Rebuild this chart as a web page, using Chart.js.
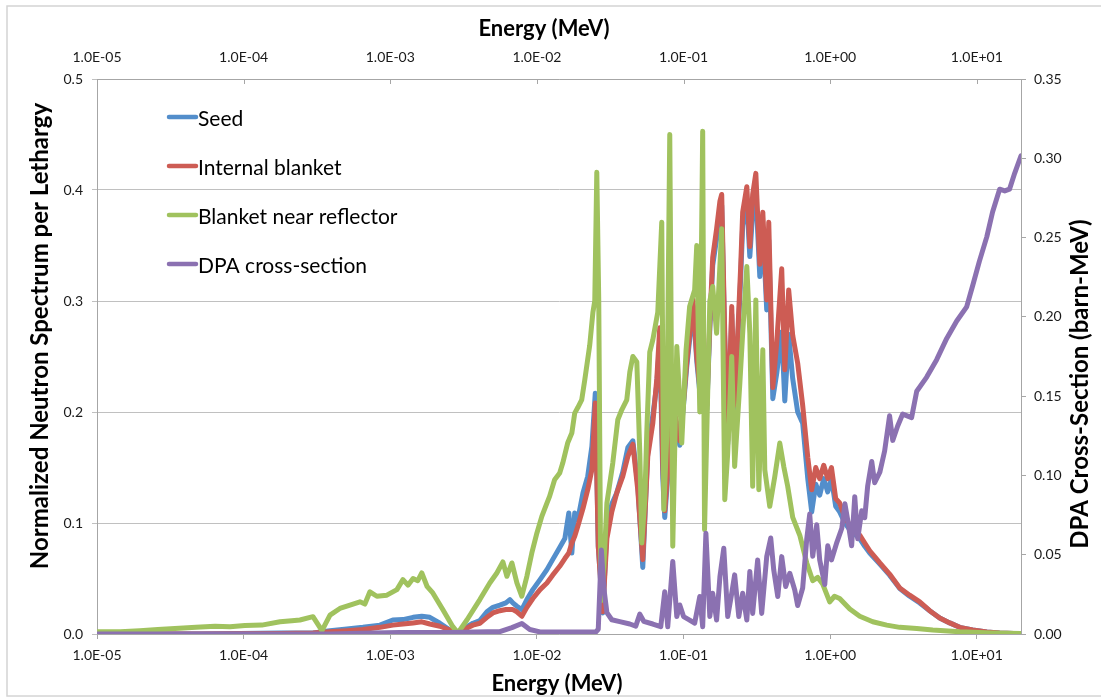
<!DOCTYPE html>
<html>
<head>
<meta charset="utf-8">
<title>Neutron spectra and DPA cross-section</title>
<script src="https://cdn.jsdelivr.net/npm/chart.js@4.4.0/dist/chart.umd.min.js"></script>
<style>
  html, body { margin: 0; padding: 0; background: #fff; }
  #wrap { width: 1101px; height: 698px; }
</style>
</head>
<body>
<div id="wrap"><canvas id="spectrumChart" width="1101" height="698"></canvas></div>
<script>
// x axis: one label per decade, shared by the top and bottom axes
const decadeValues = [1e-5, 1e-4, 1e-3, 1e-2, 1e-1, 1, 10];
const decadeLabels = ['1.0E-05', '1.0E-04', '1.0E-03', '1.0E-02', '1.0E-01', '1.0E+00', '1.0E+01'];
const fluxTickLabels = ['0.0', '0.1', '0.2', '0.3', '0.4', '0.5'];
const dpaTickLabels = ['0.00', '0.05', '0.10', '0.15', '0.20', '0.25', '0.30', '0.35'];

// Seed and internal blanket share one energy grid (MeV)
const coreE = [
  1.00e-5, 5.03e-5, 1.77e-4, 2.97e-4, 3.88e-4, 5.06e-4, 6.51e-4, 8.50e-4,
  1.04e-3, 1.22e-3, 1.43e-3, 1.64e-3, 1.86e-3, 2.18e-3, 2.55e-3, 2.89e-3,
  3.28e-3, 3.66e-3, 4.08e-3, 4.56e-3, 5.01e-3, 5.59e-3, 6.14e-3, 6.54e-3,
  6.85e-3, 7.30e-3, 7.89e-3, 8.54e-3, 9.38e-3,
  1.05e-2, 1.17e-2, 1.28e-2, 1.43e-2, 1.55e-2, 1.65e-2, 1.73e-2, 1.81e-2,
  1.90e-2, 2.06e-2, 2.22e-2, 2.37e-2, 2.50e-2, 2.62e-2, 2.81e-2, 3.00e-2,
  3.24e-2, 3.50e-2, 3.85e-2, 4.17e-2, 4.51e-2, 4.87e-2, 5.27e-2, 5.70e-2,
  6.17e-2, 6.57e-2, 6.88e-2, 7.22e-2, 7.44e-2, 7.93e-2, 8.44e-2, 8.99e-2, 9.42e-2,
  1.00e-1, 1.05e-1, 1.10e-1, 1.16e-1, 1.23e-1, 1.29e-1, 1.37e-1, 1.44e-1,
  1.51e-1, 1.58e-1, 1.68e-1, 1.77e-1, 1.82e-1, 1.91e-1, 2.00e-1, 2.13e-1,
  2.23e-1, 2.34e-1, 2.45e-1, 2.53e-1, 2.70e-1, 2.83e-1, 2.96e-1, 3.11e-1,
  3.31e-1, 3.47e-1, 3.69e-1, 3.81e-1, 4.06e-1, 4.32e-1, 4.67e-1, 4.90e-1,
  5.21e-1, 5.55e-1, 6.00e-1, 6.49e-1, 7.03e-1, 7.48e-1, 7.97e-1, 8.48e-1,
  9.03e-1, 9.62e-1,
  1.02, 1.09, 1.16, 1.26, 1.36, 1.47, 1.59, 1.72, 1.86, 2.18, 2.54, 2.98,
  3.48, 4.08, 4.77, 5.58, 6.53, 7.64, 9.36, 11.7, 14.3, 20.0
];
const seedFlux = [
  0, 0, 0.001, 0.001, 0.003, 0.0045, 0.006, 0.008,
  0.0126, 0.013, 0.015, 0.016, 0.015, 0.0097, 0.0036, 0.002,
  0.006, 0.0097, 0.012, 0.020, 0.024, 0.026, 0.028, 0.031,
  0.028, 0.025, 0.022, 0.031, 0.040,
  0.049, 0.058, 0.067, 0.078, 0.086, 0.109, 0.073, 0.109,
  0.103, 0.127, 0.142, 0.169, 0.217, 0.079, 0.019, 0.095,
  0.117, 0.127, 0.146, 0.168, 0.174, 0.135, 0.060, 0.165,
  0.197, 0.225, 0.265, 0.140, 0.105, 0.155, 0.200, 0.185, 0.170,
  0.207, 0.240, 0.265, 0.296, 0.246, 0.218, 0.211, 0.202,
  0.275, 0.332, 0.356, 0.380, 0.386, 0.262, 0.171, 0.288,
  0.202, 0.262, 0.320, 0.368, 0.390, 0.340, 0.380, 0.398,
  0.322, 0.366, 0.292, 0.355, 0.212, 0.235, 0.272, 0.210,
  0.270, 0.230, 0.200, 0.190, 0.140, 0.110, 0.135, 0.125,
  0.140, 0.128,
  0.140, 0.115, 0.110, 0.100, 0.094, 0.090, 0.086, 0.079, 0.073, 0.063, 0.053, 0.041,
  0.034, 0.028, 0.021, 0.0145, 0.010, 0.006, 0.0036, 0.0018, 0.001, 0.0003
];
const internalFlux = [
  0, 0, 0.0005, 0.001, 0.002, 0.003, 0.004, 0.006,
  0.008, 0.009, 0.010, 0.011, 0.009, 0.007, 0.0036, 0.002,
  0.005, 0.008, 0.0097, 0.015, 0.019, 0.021, 0.022, 0.022,
  0.022, 0.020, 0.016, 0.024, 0.032,
  0.040, 0.046, 0.053, 0.061, 0.068, 0.073, 0.082, 0.088,
  0.097, 0.113, 0.130, 0.148, 0.208, 0.079, 0.020, 0.086,
  0.110, 0.127, 0.142, 0.160, 0.171, 0.130, 0.067, 0.160,
  0.190, 0.230, 0.276, 0.150, 0.111, 0.160, 0.206, 0.190, 0.174,
  0.210, 0.244, 0.270, 0.301, 0.250, 0.222, 0.215, 0.206,
  0.280, 0.339, 0.365, 0.390, 0.396, 0.269, 0.174, 0.295,
  0.206, 0.269, 0.330, 0.380, 0.403, 0.349, 0.396, 0.415,
  0.333, 0.380, 0.301, 0.371, 0.222, 0.263, 0.329, 0.238,
  0.310, 0.269, 0.244, 0.206, 0.159, 0.130, 0.150, 0.140,
  0.152, 0.140,
  0.150, 0.122, 0.118, 0.105, 0.098, 0.094, 0.089, 0.082, 0.075, 0.064, 0.054, 0.0415,
  0.035, 0.029, 0.021, 0.0145, 0.010, 0.006, 0.0036, 0.0018, 0.001, 0.0003
];

// Blanket next to the reflector
const reflectorE = [
  1.00e-5, 1.44e-5, 1.96e-5, 2.60e-5, 3.40e-5, 4.73e-5, 6.38e-5, 8.07e-5,
  1.02e-4, 1.33e-4, 1.77e-4, 2.13e-4, 2.42e-4, 2.97e-4, 3.42e-4, 3.88e-4,
  4.53e-4, 5.31e-4, 6.21e-4, 6.71e-4, 7.26e-4, 8.10e-4, 9.48e-4,
  1.11e-3, 1.22e-3, 1.32e-3, 1.43e-3, 1.54e-3, 1.64e-3, 1.78e-3, 1.95e-3,
  2.28e-3, 2.67e-3, 2.89e-3, 3.33e-3, 4.08e-3, 4.77e-3, 5.33e-3, 5.86e-3,
  6.24e-3, 6.75e-3, 7.30e-3, 7.89e-3, 8.54e-3, 9.23e-3,
  1.00e-2, 1.08e-2, 1.17e-2, 1.22e-2, 1.32e-2, 1.43e-2, 1.50e-2, 1.62e-2,
  1.73e-2, 1.81e-2, 1.90e-2, 2.02e-2, 2.12e-2, 2.29e-2, 2.41e-2, 2.48e-2,
  2.56e-2, 2.64e-2, 2.73e-2, 2.86e-2, 3.00e-2, 3.29e-2, 3.56e-2,
  3.79e-2, 4.10e-2, 4.30e-2, 4.51e-2, 4.80e-2, 5.03e-2, 5.19e-2, 5.44e-2,
  5.61e-2, 5.88e-2, 6.17e-2, 6.67e-2, 7.10e-2, 7.33e-2, 7.68e-2, 8.05e-2,
  8.44e-2, 8.99e-2, 9.42e-2, 9.72e-2,
  1.04e-1, 1.10e-1, 1.19e-1, 1.23e-1, 1.29e-1, 1.35e-1, 1.39e-1, 1.51e-1,
  1.58e-1, 1.68e-1, 1.82e-1, 1.91e-1, 2.00e-1, 2.13e-1, 2.23e-1, 2.42e-1,
  2.53e-1, 2.70e-1, 2.83e-1, 2.96e-1, 3.11e-1, 3.26e-1, 3.47e-1, 3.58e-1,
  3.87e-1, 4.19e-1, 4.53e-1, 4.82e-1, 5.13e-1, 5.55e-1, 6.20e-1, 6.92e-1,
  7.60e-1, 8.22e-1, 8.89e-1, 9.92e-1,
  1.07, 1.16, 1.36, 1.59, 1.95, 2.43, 2.98, 3.89, 5.00, 7.64, 12.8, 20.0
];
const reflectorFlux = [
  0.002, 0.002, 0.003, 0.004, 0.005, 0.006, 0.007, 0.0065,
  0.0076, 0.008, 0.011, 0.012, 0.0126, 0.0156, 0.003, 0.017,
  0.023, 0.026, 0.029, 0.027, 0.038, 0.034, 0.035,
  0.040, 0.049, 0.044, 0.050, 0.048, 0.055, 0.043, 0.037,
  0.022, 0.0066, 0.001, 0.0126, 0.031, 0.046, 0.055, 0.065,
  0.052, 0.064, 0.046, 0.034, 0.052, 0.073,
  0.091, 0.106, 0.118, 0.124, 0.139, 0.145, 0.154, 0.172,
  0.181, 0.199, 0.204, 0.211, 0.229, 0.260, 0.290, 0.300,
  0.416, 0.300, 0.030, 0.060, 0.118, 0.154, 0.193,
  0.202, 0.211, 0.236, 0.250, 0.245, 0.163, 0.082, 0.121,
  0.181, 0.254, 0.265, 0.290, 0.371, 0.112, 0.178, 0.450,
  0.079, 0.259, 0.211, 0.172,
  0.256, 0.295, 0.310, 0.350, 0.200, 0.453, 0.094, 0.300,
  0.313, 0.271, 0.365, 0.121, 0.163, 0.250, 0.151, 0.226,
  0.271, 0.331, 0.271, 0.133, 0.301, 0.130, 0.256, 0.148,
  0.115, 0.142, 0.172, 0.151, 0.133, 0.105, 0.089, 0.064,
  0.048, 0.051, 0.045, 0.029,
  0.034, 0.032, 0.0225, 0.016, 0.011, 0.008, 0.006, 0.005, 0.0036, 0.002, 0.001, 0.0005
];

// DPA cross-section (barn-MeV), right-hand axis
const dpaE = [
  1.00e-5, 3.88e-4, 6.21e-4, 1.16e-3, 2.55e-3, 5.59e-3, 6.75e-3, 7.89e-3, 8.94e-3,
  1.05e-2, 2.52e-2, 2.62e-2, 2.75e-2, 2.86e-2, 3.00e-2, 3.24e-2, 3.67e-2,
  4.30e-2, 4.72e-2, 5.03e-2, 5.35e-2, 6.17e-2, 6.99e-2, 7.44e-2, 7.80e-2,
  8.44e-2, 8.99e-2, 9.42e-2,
  1.00e-1, 1.10e-1, 1.19e-1, 1.29e-1, 1.35e-1, 1.42e-1, 1.51e-1, 1.58e-1,
  1.68e-1, 1.77e-1, 1.88e-1, 2.00e-1, 2.13e-1, 2.23e-1, 2.38e-1, 2.53e-1,
  2.70e-1, 2.83e-1, 2.96e-1, 3.20e-1, 3.41e-1, 3.69e-1, 3.93e-1, 4.12e-1,
  4.39e-1, 4.67e-1, 4.97e-1, 5.30e-1, 5.73e-1, 6.00e-1, 6.49e-1, 6.92e-1,
  7.25e-1, 7.60e-1, 8.09e-1, 8.48e-1, 9.18e-1, 9.62e-1,
  1.02, 1.11, 1.20, 1.26, 1.32, 1.40, 1.47, 1.54, 1.64, 1.72, 1.80, 1.92,
  2.01, 2.18, 2.35, 2.54, 2.67, 2.88, 3.12, 3.59, 3.89, 4.55, 5.32, 6.23,
  7.29, 8.52, 9.36, 10.4, 11.7, 12.8, 14.3, 15.5, 16.7, 18.1, 20.0
];
const dpaXs = [
  0, 0, 0.0005, 0.001, 0.001, 0.0015, 0.004, 0.0066, 0.0028,
  0.0013, 0.0013, 0.003, 0.053, 0.029, 0.0135, 0.009, 0.0078,
  0.0063, 0.005, 0.0125, 0.008, 0.0063, 0.0046, 0.0267, 0.0046,
  0.0457, 0.011, 0.0183,
  0.011, 0.0088, 0.0068, 0.0236, 0.0046, 0.0636, 0.011, 0.0257,
  0.0088, 0.0362, 0.0541, 0.011, 0.0257, 0.0373, 0.011, 0.0257,
  0.0088, 0.0394, 0.013, 0.0467, 0.013, 0.0488, 0.0605, 0.0404,
  0.0236, 0.0488, 0.030, 0.0383, 0.0278, 0.018, 0.029, 0.060,
  0.0756, 0.049, 0.0689, 0.0467, 0.0312, 0.0556,
  0.0467, 0.0578, 0.0667, 0.0821, 0.0711, 0.0556, 0.0866, 0.060, 0.0777, 0.0733, 0.0932, 0.1088,
  0.0954, 0.1021, 0.1154, 0.1376, 0.1221, 0.131, 0.1387, 0.1365, 0.1531, 0.162, 0.173, 0.1864,
  0.1974, 0.2063, 0.2196, 0.235, 0.2506, 0.2661, 0.2805, 0.2794, 0.2805, 0.2905, 0.3016
];

const AXIS_GRAY = '#a6a6a6';
const GRID_GRAY = '#c0c0c0';
const TEXT = '#1a1a1a';
const FONT = 'Lato';

function pairs(xs, ys) {
  return xs.map((x, i) => ({ x: x, y: ys[i] }));
}

// outer frame, axis titles, legend and the inward ticks of the top axis
const chartDecor = {
  id: 'chartDecor',
  beforeDraw(chart) {
    const ctx = chart.ctx;
    ctx.save();
    ctx.fillStyle = '#fff';
    ctx.fillRect(0, 0, chart.width, chart.height);
    ctx.strokeStyle = '#d4d4d4';
    ctx.lineWidth = 1.5;
    ctx.strokeRect(7, 6, chart.width + 10, chart.height - 8);
    ctx.restore();
  },
  afterDraw(chart) {
    const ctx = chart.ctx;
    const area = chart.chartArea;
    const top = chart.scales.xTop;
    ctx.save();

    ctx.strokeStyle = AXIS_GRAY;
    ctx.lineWidth = 1;
    decadeValues.forEach(v => {
      const px = Math.round(top.getPixelForValue(v)) + 0.5;
      ctx.beginPath();
      ctx.moveTo(px, area.top);
      ctx.lineTo(px, area.top + 5);
      ctx.stroke();
    });

    ctx.fillStyle = '#000';
    ctx.font = 'bold 22px ' + FONT;
    ctx.textAlign = 'center';
    ctx.textBaseline = 'middle';
    ctx.fillText('Energy (MeV)', 544, 29);
    ctx.fillText('Energy (MeV)', 557, 684);

    ctx.font = 'bold 24px ' + FONT;
    ctx.save();
    ctx.translate(40, 336);
    ctx.rotate(-Math.PI / 2);
    ctx.fillText('Normalized Neutron Spectrum per Lethargy', 0, 0);
    ctx.restore();

    ctx.save();
    ctx.translate(1080, 384);
    ctx.rotate(-Math.PI / 2);
    ctx.fillText('DPA Cross-Section (barn-MeV)', 0, 0);
    ctx.restore();

    // legend in the empty upper-left corner of the plot
    ctx.font = '21px ' + FONT;
    ctx.textAlign = 'left';
    ctx.lineCap = 'round';
    chart.data.datasets.forEach((ds, i) => {
      const y = 117 + i * 49;
      ctx.strokeStyle = ds.borderColor;
      ctx.lineWidth = 4.5;
      ctx.beginPath();
      ctx.moveTo(169, y);
      ctx.lineTo(196, y);
      ctx.stroke();
      ctx.fillStyle = '#000';
      ctx.fillText(ds.label, 198, y + 2);
    });
    ctx.restore();
  }
};

function energyAxis(position) {
  return {
    type: 'logarithmic',
    position: position,
    min: 1e-5,
    max: 20,
    afterBuildTicks: scale => {
      scale.ticks = decadeValues.map(v => ({ value: v }));
    },
    ticks: {
      callback: (v, i) => decadeLabels[i],
      autoSkip: false,
      maxRotation: 0,
      color: TEXT,
      font: { family: FONT, size: 14 },
      padding: position === 'top' ? 13 : 8
    },
    grid: {
      drawOnChartArea: false,
      drawTicks: position !== 'top',
      tickLength: 5,
      color: AXIS_GRAY
    },
    border: { color: AXIS_GRAY, width: 1 },
    afterFit: scale => {
      scale.height = position === 'top' ? 79 : 64;
    }
  };
}

const lineStyle = {
  pointRadius: 0,
  pointHoverRadius: 0,
  borderWidth: 5,
  borderJoinStyle: 'round',
  borderCapStyle: 'round',
  tension: 0,
  fill: false
};

new Chart(document.getElementById('spectrumChart'), {
  type: 'line',
  data: {
    datasets: [
      Object.assign({ label: 'Seed', data: pairs(coreE, seedFlux),
        borderColor: '#538ecb', yAxisID: 'y', xAxisID: 'x', order: 4 }, lineStyle),
      Object.assign({ label: 'Internal blanket', data: pairs(coreE, internalFlux),
        borderColor: '#cd5c54', yAxisID: 'y', xAxisID: 'x', order: 3 }, lineStyle),
      Object.assign({ label: 'Blanket near reflector', data: pairs(reflectorE, reflectorFlux),
        borderColor: '#a0c25e', yAxisID: 'y', xAxisID: 'x', order: 2 }, lineStyle),
      Object.assign({ label: 'DPA cross-section', data: pairs(dpaE, dpaXs),
        borderColor: '#8b71b1', yAxisID: 'y2', xAxisID: 'x', order: 1 }, lineStyle)
    ]
  },
  options: {
    responsive: false,
    animation: false,
    devicePixelRatio: 1,
    layout: { padding: 0 },
    plugins: {
      legend: { display: false },
      tooltip: { enabled: false }
    },
    scales: {
      x: energyAxis('bottom'),
      xTop: energyAxis('top'),
      y: {
        position: 'left',
        min: 0,
        max: 0.5,
        ticks: {
          stepSize: 0.1,
          callback: (v, i) => fluxTickLabels[i],
          color: TEXT,
          font: { family: FONT, size: 14 },
          padding: 9
        },
        grid: { color: GRID_GRAY, tickLength: 5, lineWidth: 1 },
        border: { color: AXIS_GRAY, width: 1 },
        afterFit: scale => { scale.width = 97; }
      },
      y2: {
        position: 'right',
        min: 0,
        max: 0.35,
        ticks: {
          stepSize: 0.05,
          callback: (v, i) => dpaTickLabels[i],
          color: TEXT,
          font: { family: FONT, size: 14 },
          padding: 8
        },
        grid: { drawOnChartArea: false, tickLength: 5, color: AXIS_GRAY },
        border: { color: AXIS_GRAY, width: 1 },
        afterFit: scale => { scale.width = 80; }
      }
    }
  },
  plugins: [chartDecor]
});
</script>
</body>
</html>
